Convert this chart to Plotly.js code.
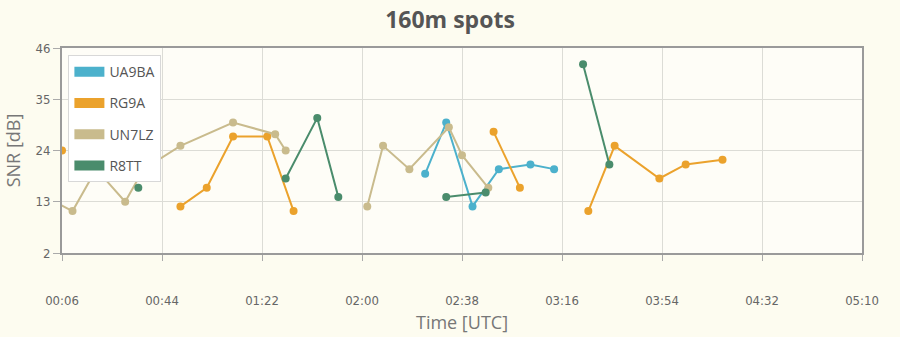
<!DOCTYPE html>
<html>
<head>
<meta charset="utf-8">
<script src="https://cdn.plot.ly/plotly-3.0.1.min.js"></script>
<style>
  html, body { margin: 0; padding: 0; background: #fdfcf0; }
  #chart { width: 900px; height: 337px; }
</style>
</head>
<body>
<div id="chart"></div>
<script>
// ---- data (null = gap in the line) ----
const seriesNames = ['UA9BA', 'RG9A', 'UN7LZ', 'R8TT'];

const ua9baTimes = ['02:24', '02:32', '02:42', '02:52', '03:04', '03:13'];
const ua9baSnr   = [19, 30, 12, 20, 21, 20];

const rg9aTimes = ['00:06', null, '00:51', '01:01', '01:11', '01:24', '01:34', null,
                   '02:50', '03:00', null, '03:26', '03:36', '03:53', '04:03', '04:17'];
const rg9aSnr   = [24, null, 12, 16, 27, 27, 11, null, 28, 16, null, 11, 25, 18, 21, 22];

const un7lzTimes = ['00:03', '00:10', '00:19', '00:30', '00:37', '00:51', '01:11', '01:27', '01:31', null,
                    '02:02', '02:08', '02:18', '02:33', '02:38', '02:48'];
const un7lzSnr   = [13, 11, 20, 13, 20, 25, 30, 27.5, 24, null, 12, 25, 20, 29, 23, 16];

const r8ttTimes = ['00:35', null, '01:31', '01:43', '01:51', null, '02:32', '02:47', null, '03:24', '03:34'];
const r8ttSnr   = [16, null, 18, 31, 14, null, 14, 15, null, 42.5, 21];

const xTickLabels = ['00:06', '00:44', '01:22', '02:00', '02:38', '03:16', '03:54', '04:32', '05:10'];
const yTickValues = [2, 13, 24, 35, 46];

// ---- styling ----
const colors = ['#4cb1cc', '#eba22c', '#c9bb8d', '#4a8c6c'];
const DAY = '2024-01-01 ';
const toDate = t => (t === null ? null : DAY + t);

const seriesTimes = [ua9baTimes, rg9aTimes, un7lzTimes, r8ttTimes];
const seriesSnr = [ua9baSnr, rg9aSnr, un7lzSnr, r8ttSnr];

const tickFont = { family: 'Liberation Sans Narrow, DejaVu Sans Condensed, Roboto, sans-serif', size: 13, color: '#666' };
const titleFamily = 'Open Sans, Noto Sans, sans-serif';

const traces = [];
seriesNames.forEach((name, i) => {
  traces.push({
    type: 'scatter',
    mode: 'lines+markers',
    name: name,
    x: seriesTimes[i].map(toDate),
    y: seriesSnr[i],
    connectgaps: false,
    line: { color: colors[i], width: 2 },
    marker: { color: colors[i], size: 8 },
    showlegend: false,
    legendgroup: name,
    hoverinfo: 'x+y+name'
  });
});
// legend-only entries (wide swatches)
seriesNames.forEach((name, i) => {
  traces.push({
    type: 'scatter',
    mode: 'lines',
    name: name,
    x: [null],
    y: [null],
    line: { color: colors[i], width: 10 },
    showlegend: true,
    legendgroup: name
  });
});

const layout = {
  width: 900,
  height: 337,
  paper_bgcolor: '#fdfcf0',
  plot_bgcolor: '#fefdf7',
  margin: { l: 62, r: 38, t: 48, b: 84 },
  title: {
    text: '160m spots',
    x: 0.5,
    xanchor: 'center',
    y: 0.94,
    yanchor: 'middle',
    font: { family: titleFamily, size: 23, color: '#555', weight: 'bold' }
  },
  xaxis: {
    type: 'date',
    range: [DAY + '00:06', DAY + '05:10'],
    tickvals: xTickLabels.map(toDate),
    ticktext: xTickLabels,
    ticks: 'outside',
    ticklen: 6,
    tickcolor: '#aaa',
    tickfont: tickFont,
    ticklabelstandoff: 28,
    showgrid: true,
    gridcolor: '#dcdcd6',
    gridwidth: 1,
    showline: true,
    linecolor: '#9a9a9a',
    linewidth: 2,
    mirror: true,
    zeroline: false,
    title: {
      text: 'Time [UTC]',
      font: { family: titleFamily, size: 18, color: '#777' },
      standoff: 10
    }
  },
  yaxis: {
    range: [2, 46],
    tickvals: yTickValues,
    ticktext: yTickValues.map(String),
    ticks: 'outside',
    ticklen: 7,
    tickcolor: '#aaa',
    tickfont: tickFont,
    showgrid: true,
    gridcolor: '#dcdcd6',
    gridwidth: 1,
    showline: true,
    linecolor: '#9a9a9a',
    linewidth: 2,
    mirror: true,
    zeroline: false,
    title: {
      text: 'SNR [dB]',
      font: { family: titleFamily, size: 18, color: '#777' },
      standoff: 10
    }
  },
  legend: {
    x: 0.008,
    y: 0.965,
    xanchor: 'left',
    yanchor: 'top',
    bgcolor: '#ffffff',
    bordercolor: '#d8d8d8',
    borderwidth: 1,
    tracegroupgap: 10,
    font: { family: titleFamily, size: 14, color: '#555' },
    itemwidth: 30
  },
  hovermode: 'closest',
  showlegend: true
};

Plotly.newPlot('chart', traces, layout, { displayModeBar: false, staticPlot: true });
</script>
</body>
</html>
